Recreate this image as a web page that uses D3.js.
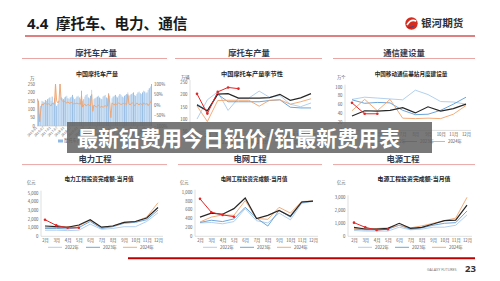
<!DOCTYPE html>
<html>
<head>
<meta charset="utf-8">
<script src="https://cdn.jsdelivr.net/npm/d3@7"></script>
<style>
body { margin: 0; background: #fff; }
svg { display: block; font-family: "Noto Sans CJK SC", "Noto Sans", sans-serif; }
</style>
</head>
<body>
<svg id="slide" width="500" height="281"></svg>
<script>
// ---- data ----
const motoTickLabels = ["2016-01","2016-07","2017-01","2017-07","2018-01","2018-07","2019-01","2019-07",
  "2020-01","2020-07","2021-01","2021-07","2022-01","2022-07","2023-01","2023-07","2024-01"];
// monthly output, 万辆 (2016-01 .. 2024-05)
const motoOutput = [160,150, 70,120,
  150,145,140,155,150,160,165,170,150,175,140,165,
  250,120,130,150,250,170,
  165,160,170,175,180,165,160,170,175,185,170,160,165,175,180,170,160,
  210,
  150,160,175,185,190,170,165,180,
  215,120,
  160,165,170,175,180,170,165,160,175,180,185,170,165,
  195,180,90,
  165,175,180,185,175,170,180,190,185,175,170,180,185,190,
  200,
  180,185,190,195,200,185,180,190,200,205,195,190,200,210,205,195,200,215,225,235,250];
// year-on-year, %
const motoYoy = [30,10, -80,-20,
  5,0,8,10,5,3,6,2,-5,8,5,10,
  100,20,10,15,100,25,
  20,15,18,12,10,15,8,10,12,10,5,8,6,10,5,8,3,
  45,
  -10,0,5,-5,0,3,-2,0,
  50,-30,
  0,-5,-10,-5,0,-8,-10,-5,-12,-6,-3,-8,-5,
  50,10,-60,
  10,5,0,8,3,5,10,6,2,5,8,4,6,3,
  50,
  5,0,8,10,5,-5,3,10,5,0,8,5,-2,10,6,3,8,-3,5,10,25];

const months12 = ["1月","2月","3月","4月","5月","6月","7月","8月","9月","10月","11月","12月"];
const months3to12 = ["3月","4月","5月","6月","7月","8月","9月","10月","11月","12月"];
const months2to12 = ["2月","3月","4月","5月","6月","7月","8月","9月","10月","11月","12月"];
const legendYears = ["2022年","2023年","2024年"];

// 摩托车产量季节性
const seasonA = [100,178,210,135,185,185,213,188,195,160,150,165];
const seasonB = [160,135,200,170,170,170,170,175,178,148,145,145];
const seasonC = [153,90,175,176,176,176,152,176,178,160,170,182];
const seasonPrev = [157,133,201,203,185,185,185,187,200,176,186,203];
const seasonLatest = [202,122,210,228,223];

// 通信基站月度建设量
const stationA = [71,76,74,72,70,92,82,66,65,60];
const stationB = [70,62,64,63,46,36,37,46,60,76];
const stationC = [45,71,45,71,28,27,28,27,37,57];
const stationPrev = [33,45,44,46,52,40,54,44,50,60];
const stationLatest = [63,38,38];

// 电力工程
const powerA = [700,700,650,700,1400,800,900,1100,1100,1700,2700];
const powerB = [900,900,850,1000,1700,900,1100,1500,1600,1900,3000];
const powerC = [1000,1000,1100,1200,1850,1000,1200,1600,1700,2200,3850];
const powerPrev = [1180,1100,1040,1300,1900,1050,1180,1600,1700,2100,3300];
const powerLatest = [1900,1250,980,980];

// 电网工程
const gridA = [300,310,280,330,620,350,300,520,370,740,780];
const gridB = [310,360,330,390,650,410,230,580,430,760,790];
const gridC = [320,430,480,470,800,400,380,650,520,780,790];
const gridPrev = [430,520,495,620,860,400,470,580,450,770,790];
const gridLatest = [840,540,480,440];

// 电源工程
const sourceA = [450,400,400,400,700,500,550,700,700,850,1650];
const sourceB = [550,500,500,550,850,550,650,850,1000,1050,1950];
const sourceC = [600,550,600,650,850,650,800,1000,1200,1400,3000];
const sourcePrev = [690,560,560,615,1000,615,690,950,1200,1250,2400];
const sourceLatest = [1050,690,485,540];

// ---- styles ----
const cLight = '#a9cbeb', cBlue = '#5b9bd5', cOrange = '#f2a36b', cBlack = '#262626', cRed = '#e02828';
const axisGray = '#bfbfbf', labelGray = '#595959', fs = 4.3;

const svg = d3.select('#slide');

// page header
svg.append('text').attr('x', 27).attr('y', 29.3).attr('font-size', 15).attr('font-weight', 700)
  .attr('fill', '#1a1a1a').attr('font-family', 'Noto Sans, sans-serif').text('4.4');
svg.append('text').attr('x', 56).attr('y', 29.3).attr('font-size', 14.6).attr('font-weight', 700)
  .attr('fill', '#1a1a1a').text('摩托车、电力、通信');
svg.append('line').attr('x1', 25).attr('x2', 475).attr('y1', 36).attr('y2', 36)
  .attr('stroke', '#c00000').attr('stroke-width', 1.2);

// logo
const logo = svg.append('g').attr('transform', 'translate(411.5,23.5)');
logo.append('circle').attr('r', 6.2).attr('fill', '#d52b1e');
logo.append('path').attr('d', 'M-4.5,1.5 Q-1,-5 4.8,-2.5').attr('fill', 'none')
  .attr('stroke', '#fff').attr('stroke-width', 1.6);
logo.append('path').attr('d', 'M-5,3.5 Q0,6 3.5,2 Q0,3.5 -5,3.5 Z').attr('fill', '#1d4f9c');
svg.append('text').attr('x', 421).attr('y', 27.3).attr('font-size', 10.6).attr('font-weight', 700)
  .attr('fill', '#333').text('银河期货');

// panel headers
const panelHeads = [
  { t: '摩托车产量', cx: 96, x0: 22, x1: 167, y: 52.7 },
  { t: '摩托车产量', cx: 249, x0: 175, x1: 322, y: 52.7 },
  { t: '通信建设量', cx: 404, x0: 333, x1: 475, y: 52.7 },
  { t: '电力工程', cx: 95, x0: 22, x1: 167, y: 158.8 },
  { t: '电网工程', cx: 250, x0: 178, x1: 322, y: 158.8 },
  { t: '电源工程', cx: 403, x0: 333, x1: 475, y: 158.8 }
];
panelHeads.forEach(p => {
  svg.append('text').attr('x', p.cx).attr('y', p.y + 3).attr('text-anchor', 'middle')
    .attr('font-size', 8.3).attr('font-weight', 700).attr('fill', '#2f3b52').text(p.t);
  svg.append('line').attr('x1', p.x0).attr('x2', p.x1).attr('y1', p.y + 5.8).attr('y2', p.y + 5.8)
    .attr('stroke', '#eaa5a5').attr('stroke-width', 1);
});

function styleAxis(sel) {
  sel.attr('font-family', null);
  sel.selectAll('text').attr('font-size', fs).attr('fill', labelGray);
}

// ---- chart 1: bars + yoy line ----
(function() {
  const g = svg.append('g');
  const x = d3.scaleBand().domain(d3.range(motoOutput.length)).range([37, 152]).paddingInner(0.2);
  const yL = d3.scaleLinear().domain([0, 250]).range([126, 84]);
  const yR = d3.scaleLinear().domain([-1, 1]).range([126, 84]);

  g.append('text').attr('x', 97).attr('y', 76).attr('text-anchor', 'middle').attr('font-size', 6)
    .attr('font-weight', 700).attr('fill', '#262626').text('中国摩托车产量');
  g.append('text').attr('x', 30).attr('y', 80).attr('font-size', 4.5).attr('fill', labelGray).text('万');

  const la = g.append('g').attr('transform', 'translate(37,0)')
    .call(d3.axisLeft(yL).tickValues([0, 50, 100, 150, 200, 250]).tickSize(0).tickPadding(2));
  la.select('.domain').remove();
  styleAxis(la);
  const ra = g.append('g').attr('transform', 'translate(152,0)')
    .call(d3.axisRight(yR).tickValues([-1, -0.5, 0, 0.5, 1]).tickSize(0).tickPadding(2).tickFormat(d3.format('.0%')));
  ra.select('.domain').remove();
  styleAxis(ra);

  g.selectAll('rect.bar').data(motoOutput).join('rect').attr('class', 'bar')
    .attr('x', (d, i) => x(i)).attr('width', x.bandwidth())
    .attr('y', d => yL(d)).attr('height', d => yL(0) - yL(d))
    .attr('fill', (d, i) => i % 2 ? '#8fb8e3' : '#b7d3ee');

  g.append('line').attr('x1', 37).attr('x2', 152).attr('y1', yL(0)).attr('y2', yL(0))
    .attr('stroke', axisGray).attr('stroke-width', 0.5);

  g.append('path').datum(motoYoy)
    .attr('d', d3.line().x((d, i) => x(i) + x.bandwidth() / 2).y(d => yR(d / 100)))
    .attr('fill', 'none').attr('stroke', cOrange).attr('stroke-width', 0.9);

  motoTickLabels.forEach((t, k) => {
    const xi = x(k * 6) + x.bandwidth() / 2;
    g.append('text').attr('transform', `translate(${xi},128) rotate(-45)`).attr('text-anchor', 'end')
      .attr('font-size', 3.4).attr('fill', labelGray).text(t);
  });

  g.append('rect').attr('x', 58).attr('y', 139.5).attr('width', 5).attr('height', 3).attr('fill', '#8fb8e3');
  g.append('text').attr('x', 64).attr('y', 142.3).attr('font-size', fs).attr('fill', labelGray).text('摩托车产量');
  g.append('line').attr('x1', 95).attr('x2', 105).attr('y1', 141).attr('y2', 141).attr('stroke', cOrange);
  g.append('text').attr('x', 106).attr('y', 142.3).attr('font-size', fs).attr('fill', labelGray).text('同比');
})();

// ---- generic multi-year line chart ----
function lineChart(cfg) {
  const g = svg.append('g');
  const x = d3.scalePoint().domain(cfg.cats).range(cfg.xRange);
  const y = d3.scaleLinear().domain(cfg.yDomain).range(cfg.yRange);
  const base = y(cfg.yDomain[0]);

  g.append('text').attr('x', cfg.titleX).attr('y', cfg.titleY).attr('text-anchor', 'middle')
    .attr('font-size', cfg.titleSize).attr('font-weight', 700).attr('fill', '#262626').text(cfg.title);
  g.append('text').attr('x', cfg.unitX).attr('y', cfg.unitY).attr('font-size', 4.3)
    .attr('fill', labelGray).text(cfg.unit);

  const ya = g.append('g').attr('transform', `translate(${cfg.axisX},0)`)
    .call(d3.axisLeft(y).tickValues(cfg.ticks).tickSize(0).tickPadding(2.5).tickFormat(d3.format(',')));
  ya.select('.domain').remove();
  styleAxis(ya);
  g.append('line').attr('x1', cfg.axisX).attr('x2', cfg.axisX).attr('y1', cfg.yRange[1] - 2).attr('y2', base)
    .attr('stroke', axisGray).attr('stroke-width', 0.5);

  const xa = g.append('g').attr('transform', `translate(0,${base})`)
    .call(d3.axisBottom(x).tickSize(0).tickPadding(3));
  xa.select('.domain').remove();
  styleAxis(xa);
  g.append('line').attr('x1', cfg.axisX).attr('x2', cfg.xRange[1] + 5).attr('y1', base).attr('y2', base)
    .attr('stroke', axisGray).attr('stroke-width', 0.5);

  const line = d3.line().x((d, i) => x(cfg.cats[i])).y(d => y(d));
  cfg.series.forEach(s => {
    g.append('path').datum(s.values).attr('d', line).attr('fill', 'none')
      .attr('stroke', s.color).attr('stroke-width', s.width || 0.9);
    if (s.marker) {
      g.selectAll(null).data(s.values).join('circle')
        .attr('cx', (d, i) => x(cfg.cats[i])).attr('cy', d => y(d)).attr('r', 1.3).attr('fill', s.color);
    }
  });

  legendYears.forEach((t, k) => {
    const lx = cfg.legendX[k];
    g.append('line').attr('x1', lx).attr('x2', lx + 14).attr('y1', cfg.legendY).attr('y2', cfg.legendY)
      .attr('stroke', cfg.series[k].color).attr('stroke-width', 0.9);
    g.append('text').attr('x', lx + 17).attr('y', cfg.legendY + 1.5).attr('font-size', fs)
      .attr('fill', labelGray).text(t);
  });
}

function fiveSeries(a, b, c, prev, latest) {
  return [
    { values: a, color: cLight },
    { values: b, color: cBlue },
    { values: c, color: cOrange },
    { values: prev, color: cBlack, width: 1.2 },
    { values: latest, color: cRed, width: 1, marker: true }
  ];
}

lineChart({
  cats: months12, xRange: [197, 311], yDomain: [50, 250], yRange: [131.4, 82], ticks: [50, 100, 150, 200, 250],
  axisX: 190, title: '中国摩托车产量季节性', titleX: 252, titleY: 75.5, titleSize: 6.2,
  unit: '万辆', unitX: 181, unitY: 78.5, legendX: [205, 240, 275], legendY: 142,
  series: fiveSeries(seasonA, seasonB, seasonC, seasonPrev, seasonLatest)
});

lineChart({
  cats: months3to12, xRange: [352, 466], yDomain: [0, 100], yRange: [130.4, 86.7], ticks: [0, 20, 40, 60, 80, 100],
  axisX: 345, title: '中国移动通信基站月度建设量', titleX: 411, titleY: 75.5, titleSize: 5.6,
  unit: '万个', unitX: 337, unitY: 78.5, legendX: [375, 403, 431], legendY: 141.5,
  series: fiveSeries(stationA, stationB, stationC, stationPrev, stationLatest)
});

lineChart({
  cats: months2to12, xRange: [45, 158], yDomain: [0, 5000], yRange: [236.3, 192.7], ticks: [0, 1000, 2000, 3000, 4000, 5000],
  axisX: 41, title: '电力工程投资完成额-当月值', titleX: 99, titleY: 181, titleSize: 5.6,
  unit: '亿元', unitX: 27, unitY: 184, legendX: [48, 86, 123], legendY: 247.3,
  series: fiveSeries(powerA, powerB, powerC, powerPrev, powerLatest)
});

lineChart({
  cats: months2to12, xRange: [200, 313], yDomain: [0, 1000], yRange: [236.3, 191.7], ticks: [0, 200, 400, 600, 800, 1000],
  axisX: 195, title: '电网工程投资完成额-当月值', titleX: 254, titleY: 181, titleSize: 5.4,
  unit: '亿元', unitX: 180, unitY: 184, legendX: [203, 240, 277], legendY: 247.3,
  series: fiveSeries(gridA, gridB, gridC, gridPrev, gridLatest)
});

lineChart({
  cats: months2to12, xRange: [354, 467], yDomain: [0, 3000], yRange: [236.3, 197.3], ticks: [0, 1000, 2000, 3000],
  axisX: 348, title: '电源工程投资完成额-当月值', titleX: 414, titleY: 181, titleSize: 5.9,
  unit: '亿元', unitX: 337, unitY: 184, legendX: [358, 395, 432], legendY: 247.3,
  series: fiveSeries(sourceA, sourceB, sourceC, sourcePrev, sourceLatest)
});

// footer
svg.append('line').attr('x1', 128).attr('x2', 475).attr('y1', 258.3).attr('y2', 258.3)
  .attr('stroke', '#c00000').attr('stroke-width', 2);
svg.append('text').attr('x', 427).attr('y', 270.5).attr('font-size', 3.6).attr('fill', '#777')
  .attr('font-family', 'Noto Sans, sans-serif').text('GALAXY FUTURES');
svg.append('text').attr('x', 465).attr('y', 272.3).attr('font-size', 9.5).attr('font-weight', 700)
  .attr('fill', '#333').attr('font-family', 'Noto Sans, sans-serif').text('23');

// overlay banner
svg.append('rect').attr('x', 67).attr('y', 122).attr('width', 365).attr('height', 31)
  .attr('fill', '#5f5f5f').attr('fill-opacity', 0.84);
svg.append('text').attr('x', 77).attr('y', 145.5).attr('font-size', 21).attr('font-weight', 700)
  .attr('fill', '#fff').text('最新铅费用今日铅价/铅最新费用表');
</script>
</body>
</html>
